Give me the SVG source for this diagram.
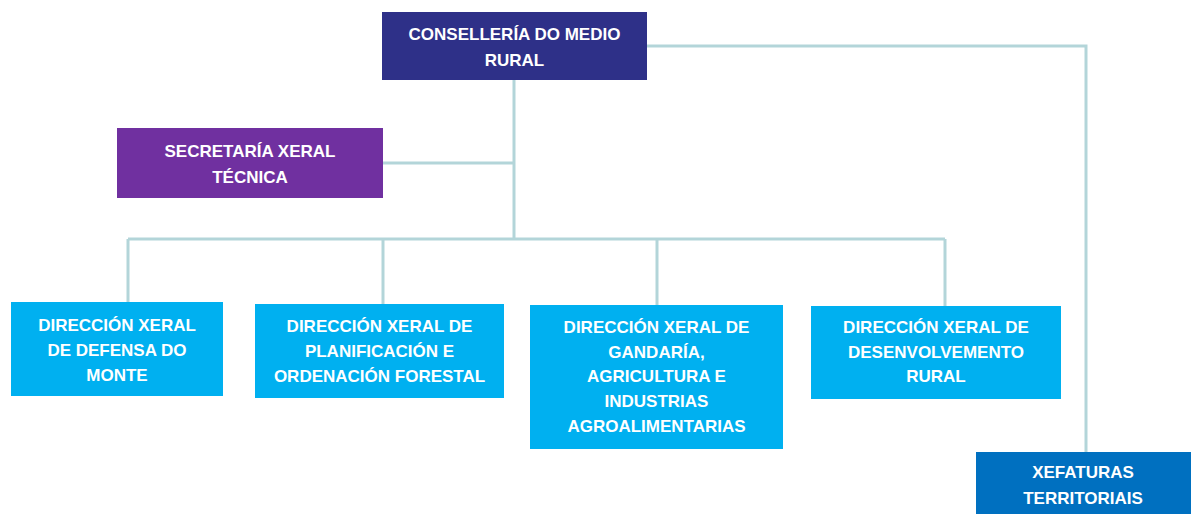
<svg xmlns="http://www.w3.org/2000/svg" width="1191" height="514" viewBox="0 0 1191 514">
<style>
.t{font-family:"Liberation Sans",Arial,sans-serif;font-weight:bold;font-size:17px;fill:#ffffff;text-anchor:middle}
.c{fill:none;stroke:#B3D5D9;stroke-width:3}
.lb{fill:#00B0F0}
</style>
<rect width="1191" height="514" fill="#ffffff"/>
<g id="connectors">
<path class="c" d="M514 80 V239"/>
<path class="c" d="M383 163 H514"/>
<path class="c" d="M128 239 H945"/>
<path class="c" d="M128 239 V302"/>
<path class="c" d="M383 239 V304"/>
<path class="c" d="M657 239 V305"/>
<path class="c" d="M945 239 V306"/>
<path class="c" d="M647 46 H1086 V452"/>
</g>
<g id="conselleria">
<rect x="382" y="12" width="265" height="68" fill="#2E3088"/>
<text class="t" x="514.5" y="40">CONSELLERÍA DO MEDIO</text>
<text class="t" x="514.5" y="66">RURAL</text>
</g>
<g id="secretaria">
<rect x="117" y="128" width="266" height="70" fill="#7030A0"/>
<text class="t" x="250" y="157">SECRETARÍA XERAL</text>
<text class="t" x="250" y="183">TÉCNICA</text>
</g>
<g id="dx-defensa">
<rect class="lb" x="11" y="302" width="212" height="94"/>
<text class="t" x="117" y="331">DIRECCIÓN XERAL</text>
<text class="t" x="117" y="356">DE DEFENSA DO</text>
<text class="t" x="117" y="381">MONTE</text>
</g>
<g id="dx-planificacion">
<rect class="lb" x="255" y="304" width="249" height="94"/>
<text class="t" x="379.5" y="332">DIRECCIÓN XERAL DE</text>
<text class="t" x="379.5" y="357">PLANIFICACIÓN E</text>
<text class="t" x="379.5" y="382">ORDENACIÓN FORESTAL</text>
</g>
<g id="dx-gandaria">
<rect class="lb" x="530" y="305" width="253" height="144"/>
<text class="t" x="656.5" y="333">DIRECCIÓN XERAL DE</text>
<text class="t" x="656.5" y="358">GANDARÍA,</text>
<text class="t" x="656.5" y="382">AGRICULTURA E</text>
<text class="t" x="656.5" y="407">INDUSTRIAS</text>
<text class="t" x="656.5" y="432">AGROALIMENTARIAS</text>
</g>
<g id="dx-desenvolvemento">
<rect class="lb" x="811" y="306" width="250" height="93"/>
<text class="t" x="936" y="333">DIRECCIÓN XERAL DE</text>
<text class="t" x="936" y="358">DESENVOLVEMENTO</text>
<text class="t" x="936" y="382">RURAL</text>
</g>
<g id="xefaturas">
<rect x="976" y="452" width="215" height="62" fill="#0070C0"/>
<text class="t" x="1083" y="478">XEFATURAS</text>
<text class="t" x="1083" y="504">TERRITORIAIS</text>
</g>
</svg>
